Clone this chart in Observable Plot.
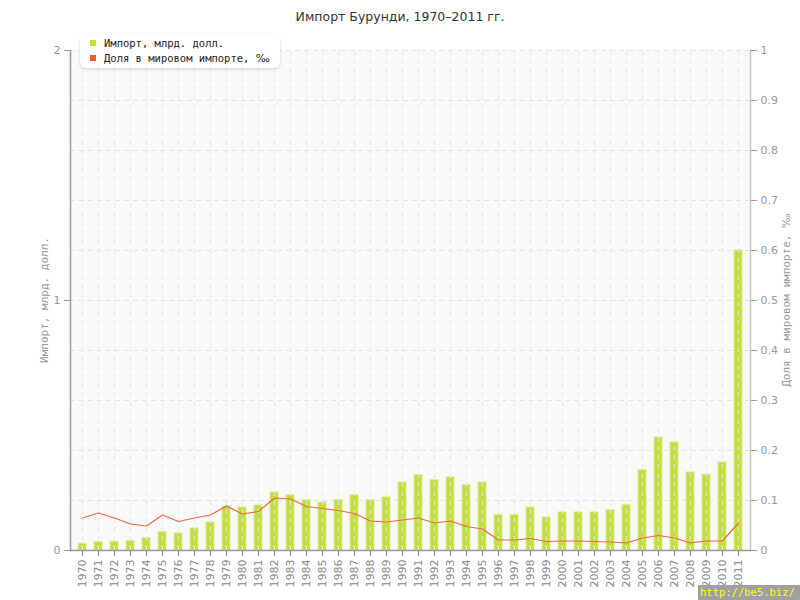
<!DOCTYPE html>
<html><head><meta charset="utf-8">
<script src="https://cdn.jsdelivr.net/npm/d3@7"></script>
<script src="https://cdn.jsdelivr.net/npm/@observablehq/plot@0.6"></script>
<style>
body{margin:0;background:#fff;}
#wrap{position:relative;width:800px;height:600px;overflow:hidden;}
#title{position:absolute;left:0;top:9px;width:800px;text-align:center;font:12.5px "DejaVu Sans",sans-serif;color:#333;}
#legend{position:absolute;left:80px;top:34px;width:200px;height:34px;background:#fff;border-radius:6px;box-shadow:0 1px 3px rgba(0,0,0,0.18);font:10.5px "DejaVu Sans Mono",monospace;color:#222;}
#legend .row{position:absolute;left:10px;white-space:nowrap;}
#legend .sw{display:inline-block;width:6px;height:6px;margin-right:8px;vertical-align:1px;}
.pm{font-family:"DejaVu Sans",sans-serif;}
.ylab{position:absolute;font:11px "DejaVu Sans Mono",monospace;color:#999;white-space:nowrap;transform:translate(-50%,-50%) rotate(-90deg);}
#wm{position:absolute;left:698px;top:585px;width:102px;height:15px;background:#a0a0a0;color:#ffff00;font:10.5px "DejaVu Sans Mono",monospace;line-height:15px;white-space:nowrap;padding-left:2px;box-sizing:border-box;}
</style></head>
<body><div id="wrap"><div id="chart"></div>
<div id="title">Импорт Бурунди, 1970–2011 гг.</div>
<div id="legend">
<div class="row" style="top:3px"><span class="sw" style="background:#c3df3a"></span>Импорт, млрд. долл.</div>
<div class="row" style="top:18px"><span class="sw" style="background:#e5622c"></span>Доля в мировом импорте, <span class="pm">‰</span></div>
</div>
<div class="ylab" style="left:44px;top:300px">Импорт, млрд. долл.</div>
<div class="ylab" style="left:786px;top:300px">Доля в мировом импорте, <span class="pm">‰</span></div>
<div id="wm">http://be5.biz/</div>
</div>
<script>
const years = ["1970","1971","1972","1973","1974","1975","1976","1977","1978","1979","1980","1981","1982","1983","1984","1985","1986","1987","1988","1989","1990","1991","1992","1993","1994","1995","1996","1997","1998","1999","2000","2001","2002","2003","2004","2005","2006","2007","2008","2009","2010","2011"];
const importBn = [0.027,0.033,0.035,0.037,0.049,0.073,0.068,0.088,0.112,0.176,0.172,0.18,0.232,0.221,0.201,0.192,0.201,0.221,0.201,0.212,0.272,0.301,0.281,0.292,0.261,0.272,0.141,0.141,0.172,0.132,0.152,0.152,0.152,0.161,0.181,0.321,0.452,0.432,0.312,0.303,0.352,1.2];
const sharePermille = [0.065,0.075,0.065,0.053,0.049,0.071,0.058,0.065,0.071,0.089,0.073,0.078,0.105,0.103,0.088,0.084,0.08,0.074,0.059,0.057,0.061,0.065,0.055,0.059,0.048,0.043,0.021,0.021,0.024,0.018,0.019,0.019,0.018,0.017,0.015,0.025,0.03,0.025,0.015,0.019,0.019,0.055];
const leftTicks = [0,1,2];
const rightTicks = [0,0.1,0.2,0.3,0.4,0.5,0.6,0.7,0.8,0.9,1];

const data = years.map((y,i)=>({year:y, imp:importBn[i], share:sharePermille[i]}));
const gridY = rightTicks.slice(1).map(v=>v*2);

const chart = Plot.plot({
  width:800, height:600,
  marginTop:50, marginBottom:50, marginLeft:70, marginRight:50,
  style:{fontFamily:"DejaVu Sans, sans-serif", fontSize:"11px", color:"#999", background:"transparent"},
  x:{type:"band", domain:years, paddingInner:0.5, paddingOuter:0.25, align:0.5},
  y:{domain:[0,2]},
  marks:[
    Plot.frame({fill:"#f9f9f9", stroke:null}),
    Plot.ruleY(gridY, {stroke:"#e4e4e4", strokeDasharray:"5,4"}),
    Plot.barY(data, {x:"year", y:"imp", fill:"#c3df3a", stroke:"#d6eb86", strokeWidth:1}),
    Plot.ruleX(years, {y1:0, y2:2, stroke:"#e6e6e6", strokeDasharray:"5,4", strokeOpacity:0.9}),
    Plot.lineY(data, {x:"year", y:d=>d.share*2, stroke:"#e86c3e", strokeWidth:1.2}),
    Plot.frame({anchor:"left", stroke:"#999", strokeWidth:1.5}),
    Plot.frame({anchor:"right", stroke:"#c4c4c4", strokeWidth:1.5}),
    Plot.frame({anchor:"bottom", stroke:"#999", strokeWidth:1.5}),
    Plot.axisY({anchor:"left", ticks:leftTicks, tickFormat:d=>String(d), tickSize:6, tickPadding:4, label:null, color:"#999"}),
    Plot.axisY({anchor:"right", ticks:rightTicks.map(v=>v*2), tickFormat:d=>String(+(d/2).toFixed(1)), tickSize:6, tickPadding:4, label:null, color:"#999"}),
    Plot.axisX({anchor:"bottom", tickSize:6, tickPadding:3, tickRotate:-90, label:null, color:"#888"})
  ]
});
document.getElementById("chart").appendChild(chart);
</script>
</body></html>
